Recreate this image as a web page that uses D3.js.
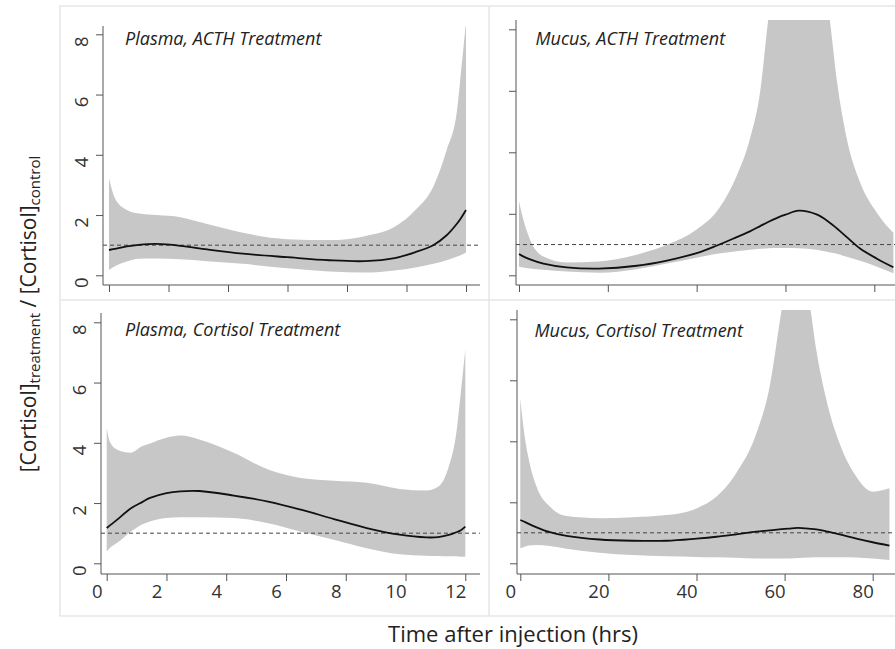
<!DOCTYPE html>
<html>
<head>
<meta charset="utf-8">
<script src="https://cdn.jsdelivr.net/npm/d3@7"></script>
<style>
  body { margin: 0; background: #fff; }
  svg { display: block; font-family: "Open Sans", sans-serif; }
</style>
</head>
<body>
<script>
// chart values
const yTicks = [0, 2, 4, 6, 8];
const plasmaTicks = [0, 2, 4, 6, 8, 10, 12];
const mucusTicks = [0, 20, 40, 60, 80];
const panelTitles = ["Plasma, ACTH Treatment", "Mucus, ACTH Treatment",
  "Plasma, Cortisol Treatment", "Mucus, Cortisol Treatment"];

// plasma, ACTH
const plasmaActhHours = [0, 0.2, 0.6, 1.0, 1.6, 2.4, 3.3, 4.5, 6.0, 7.4, 8.6, 9.6, 10.3, 10.9, 11.35, 11.7, 11.85, 12];
const plasmaActhMean  = [0.84, 0.88, 0.96, 1.01, 1.04, 0.98, 0.86, 0.72, 0.6, 0.5, 0.47, 0.57, 0.77, 1.0, 1.33, 1.72, 1.93, 2.17];
const plasmaActhUpper = [3.22, 2.56, 2.17, 2.05, 2.0, 1.93, 1.7, 1.41, 1.2, 1.17, 1.3, 1.61, 2.17, 2.94, 4.16, 5.49, 6.93, 8.4];
const plasmaActhLower = [0.18, 0.3, 0.46, 0.55, 0.56, 0.53, 0.47, 0.38, 0.23, 0.13, 0.09, 0.16, 0.26, 0.38, 0.5, 0.62, 0.68, 0.76];

// mucus, ACTH
const mucusActhHours = [0, 0.6, 2.5, 5.5, 10.7, 18, 26.5, 33.3, 40, 44.6, 49, 52, 54.3, 56.2, 58, 60, 63, 67, 69.9, 71.6, 73.8, 76.8, 80.6, 84.3];
const mucusActhMean  = [0.69, 0.64, 0.52, 0.38, 0.26, 0.22, 0.31, 0.48, 0.72, 0.97, 1.24, 1.43, 1.6, 1.74, 1.86, 1.97, 2.1, 1.98, 1.72, 1.52, 1.24, 0.87, 0.54, 0.26];
const mucusActhUpper = [2.41, 2.03, 1.16, 0.61, 0.42, 0.45, 0.67, 0.99, 1.49, 2.09, 3.23, 4.44, 5.97, 8.4, 10, 11.5, 12, 11, 8.4, 6.3, 4.44, 3.02, 2.03, 1.38];
const mucusActhLower = [0.28, 0.26, 0.22, 0.18, 0.12, 0.08, 0.2, 0.38, 0.57, 0.7, 0.78, 0.83, 0.86, 0.88, 0.89, 0.89, 0.88, 0.83, 0.75, 0.7, 0.6, 0.47, 0.28, 0.07];

// plasma, cortisol
const plasmaCortHours = [0, 0.1, 0.34, 0.8, 1.2, 1.45, 2.0, 2.46, 3.1, 4.25, 5.4, 6.5, 7.6, 8.7, 9.8, 10.7, 11.1, 11.45, 11.7, 11.85, 12];
const plasmaCortMean  = [1.17, 1.25, 1.44, 1.82, 2.04, 2.17, 2.33, 2.39, 2.4, 2.25, 2.05, 1.78, 1.47, 1.17, 0.95, 0.86, 0.87, 0.94, 1.03, 1.1, 1.22];
const plasmaCortUpper = [4.5, 4.05, 3.78, 3.67, 3.89, 3.98, 4.17, 4.24, 4.11, 3.67, 3.11, 2.83, 2.74, 2.67, 2.47, 2.42, 2.55, 3.22, 4.33, 5.67, 7.1];
const plasmaCortLower = [0.39, 0.5, 0.67, 1.05, 1.3, 1.39, 1.5, 1.53, 1.53, 1.5, 1.33, 1.05, 0.78, 0.5, 0.3, 0.25, 0.24, 0.23, 0.23, 0.22, 0.22];

// mucus, cortisol
const mucusCortHours = [0, 0.7, 1.8, 3.7, 6.7, 10.5, 18, 25.6, 33.2, 40, 44.5, 49, 53.6, 56.6, 59.3, 61, 63, 65.9, 67.2, 69.5, 72.5, 76.3, 80, 83.8];
const mucusCortMean  = [1.42, 1.38, 1.3, 1.18, 1.02, 0.9, 0.78, 0.74, 0.74, 0.81, 0.87, 0.95, 1.04, 1.08, 1.12, 1.14, 1.16, 1.13, 1.11, 1.05, 0.95, 0.81, 0.69, 0.58];
const mucusCortUpper = [5.41, 4.48, 3.5, 2.51, 1.86, 1.55, 1.48, 1.51, 1.58, 1.8, 2.18, 2.95, 4.26, 5.79, 8.3, 9.8, 10.2, 8.3, 6.99, 5.35, 3.93, 2.84, 2.35, 2.46];
const mucusCortLower = [0.49, 0.53, 0.58, 0.6, 0.57, 0.48, 0.35, 0.27, 0.23, 0.21, 0.2, 0.18, 0.16, 0.16, 0.16, 0.16, 0.17, 0.19, 0.2, 0.2, 0.2, 0.19, 0.16, 0.11];

const width = 895, height = 649;

const svg = d3.select("body").append("svg")
  .attr("width", width)
  .attr("height", height);

// light panel frame
const frame = svg.append("g").attr("stroke", "#e6e6e6").attr("stroke-width", 1.5).attr("fill", "none");
frame.append("rect").attr("x", 60).attr("y", 6).attr("width", 850).attr("height", 610);
frame.append("line").attr("x1", 489).attr("x2", 489).attr("y1", 6).attr("y2", 616);
frame.append("line").attr("x1", 60).attr("x2", 910).attr("y1", 300).attr("y2", 300);

// layout of each panel (pixel placement only)
const panels = [
  { id: "tl", title: panelTitles[0], hours: plasmaActhHours, mean: plasmaActhMean, upper: plasmaActhUpper, lower: plasmaActhLower,
    xDomain: [0, 12], xRange: [109, 466], yRange: [275.3, 34.3], xTicks: plasmaTicks,
    left: 103, top: 26, bottom: 285, right: 480, yLabels: true, xLabels: false, tx: 125, ty: 45 },
  { id: "tr", title: panelTitles[1], hours: mucusActhHours, mean: mucusActhMean, upper: mucusActhUpper, lower: mucusActhLower,
    xDomain: [0, 80], xRange: [519, 874.3], yRange: [275.3, 29.3], xTicks: mucusTicks,
    left: 516, top: 20, bottom: 285, right: 900, yLabels: false, xLabels: false, tx: 535.5, ty: 45 },
  { id: "bl", title: panelTitles[2], hours: plasmaCortHours, mean: plasmaCortMean, upper: plasmaCortUpper, lower: plasmaCortLower,
    xDomain: [0, 12], xRange: [106.7, 465.3], yRange: [563.3, 322.3], xTicks: plasmaTicks,
    left: 101, top: 313, bottom: 574, right: 480, yLabels: true, xLabels: true, tx: 125, ty: 336 },
  { id: "br", title: panelTitles[3], hours: mucusCortHours, mean: mucusCortMean, upper: mucusCortUpper, lower: mucusCortLower,
    xDomain: [0, 80], xRange: [520.3, 872.7], yRange: [563.3, 319.3], xTicks: mucusTicks,
    left: 517, top: 310, bottom: 574, right: 900, yLabels: false, xLabels: true, tx: 534.5, ty: 337 }
];

const defs = svg.append("defs");

panels.forEach(p => {
  const x = d3.scaleLinear().domain(p.xDomain).range(p.xRange);
  const y = d3.scaleLinear().domain([0, 8]).range(p.yRange);
  const rows = p.hours.map((h, i) => ({ h, mean: p.mean[i], up: p.upper[i], lo: p.lower[i] }));

  defs.append("clipPath").attr("id", "clip-" + p.id)
    .append("rect")
    .attr("x", p.left).attr("y", p.top)
    .attr("width", p.right - p.left).attr("height", p.bottom - p.top);

  const g = svg.append("g");
  const plot = g.append("g").attr("clip-path", `url(#clip-${p.id})`);

  // confidence band
  plot.append("path")
    .datum(rows)
    .attr("fill", "#c7c7c7")
    .attr("d", d3.area()
      .x(d => x(d.h))
      .y0(d => y(d.lo))
      .y1(d => y(d.up))
      .curve(d3.curveMonotoneX));

  // reference line at ratio 1
  plot.append("line")
    .attr("x1", p.left).attr("x2", p.right)
    .attr("y1", y(1)).attr("y2", y(1))
    .attr("stroke", "#444")
    .attr("stroke-width", 1)
    .attr("stroke-dasharray", "4,3");

  // fitted mean
  plot.append("path")
    .datum(rows)
    .attr("fill", "none")
    .attr("stroke", "#111")
    .attr("stroke-width", 1.8)
    .attr("d", d3.line().x(d => x(d.h)).y(d => y(d.mean)).curve(d3.curveCatmullRom.alpha(0.5)));

  // axes
  const yAxis = g.append("g")
    .attr("transform", `translate(${p.left},0)`)
    .call(d3.axisLeft(y).tickValues(yTicks).tickSize(7).tickSizeOuter(0));
  const xAxis = g.append("g")
    .attr("transform", `translate(0,${p.bottom})`)
    .call(d3.axisBottom(x).tickValues(p.xTicks).tickSize(7).tickSizeOuter(0));

  [yAxis, xAxis].forEach(a => {
    a.select(".domain").remove();
    a.selectAll("line").attr("stroke", "#555");
  });

  if (p.yLabels) {
    yAxis.selectAll("text")
      .attr("transform", "rotate(-90)")
      .attr("x", -7).attr("y", -15).attr("dy", 0)
      .attr("text-anchor", "middle")
      .attr("fill", "#333")
      .style("font-size", "18.5px")
      .style("font-family", "'Open Sans', sans-serif");
  } else {
    yAxis.selectAll("text").remove();
  }

  if (p.xLabels) {
    xAxis.selectAll("text")
      .attr("x", -10).attr("y", 24).attr("dy", 0)
      .attr("fill", "#333")
      .style("font-size", "18.5px")
      .style("font-family", "'Open Sans', sans-serif");
  } else {
    xAxis.selectAll("text").remove();
  }

  // axis lines run a bit past the ticks
  g.append("line")
    .attr("x1", p.left).attr("x2", p.left)
    .attr("y1", p.top).attr("y2", p.bottom)
    .attr("stroke", "#555");
  g.append("line")
    .attr("x1", p.left).attr("x2", p.right)
    .attr("y1", p.bottom).attr("y2", p.bottom)
    .attr("stroke", "#555");

  g.append("text")
    .attr("x", p.tx).attr("y", p.ty)
    .attr("fill", "#222")
    .style("font-style", "italic")
    .style("font-size", "18px")
    .text(p.title);
});

// axis titles
svg.append("text")
  .attr("x", 513).attr("y", 641.5)
  .attr("text-anchor", "middle")
  .attr("fill", "#222")
  .style("font-size", "22px")
  .text("Time after injection (hrs)");

const yTitle = svg.append("text")
  .attr("transform", "translate(35.7,314) rotate(-90)")
  .attr("text-anchor", "middle")
  .attr("fill", "#222")
  .style("font-size", "21px");
yTitle.append("tspan").text("[Cortisol]");
yTitle.append("tspan").attr("dy", 4).style("font-size", "15px").text("treatment");
yTitle.append("tspan").attr("dy", -4).text(" / [Cortisol]");
yTitle.append("tspan").attr("dy", 4).style("font-size", "15px").text("control");
</script>
</body>
</html>
